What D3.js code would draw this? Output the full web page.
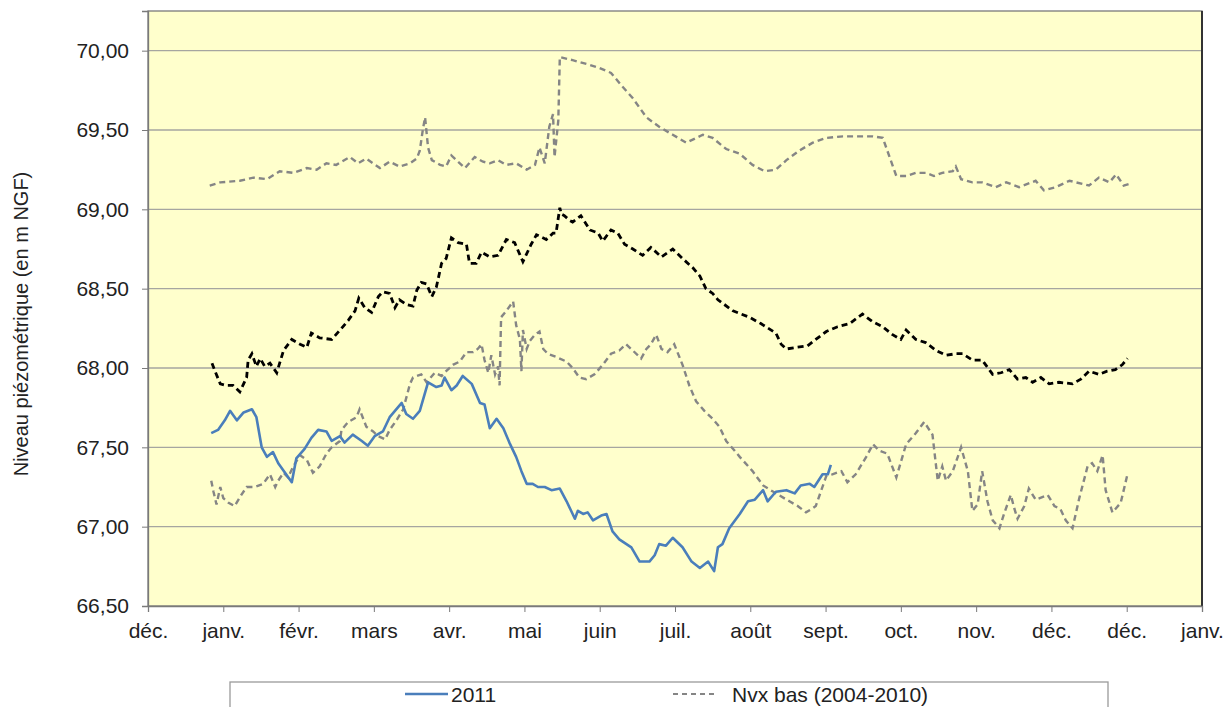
<!DOCTYPE html>
<html lang="fr">
<head>
<meta charset="UTF-8" />
<title>Niveau piézométrique</title>
<script src="https://cdn.jsdelivr.net/npm/d3@7/dist/d3.min.js"></script>
<style>
  body { margin: 0; background: #fff; }
  svg text { font-family: "Liberation Sans", Arial, sans-serif; fill: #222; }
</style>
</head>
<body>
<div id="chart"></div>
<script>
// axis labels (one per major tick, x in "month" units 0..14)
var monthLabels = ["déc.", "janv.", "févr.", "mars", "avr.", "mai", "juin", "juil.", "août", "sept.", "oct.", "nov.", "déc.", "déc.", "janv."];
var yTicks = [66.5, 67, 67.5, 68, 68.5, 69, 69.5, 70];

// 2011 series [month, level m NGF]
var serie2011 = [
  [0.84,67.59],[0.93,67.61],[1.02,67.67],[1.09,67.73],[1.18,67.67],[1.27,67.72],[1.38,67.74],[1.44,67.69],
  [1.51,67.50],[1.58,67.44],[1.66,67.47],[1.73,67.40],[1.82,67.34],[1.91,67.28],[1.97,67.43],[2.08,67.49],
  [2.17,67.56],[2.26,67.61],[2.37,67.60],[2.44,67.54],[2.55,67.57],[2.61,67.53],[2.72,67.58],[2.84,67.54],
  [2.92,67.51],[3.01,67.57],[3.12,67.60],[3.21,67.69],[3.37,67.78],[3.43,67.71],[3.52,67.68],[3.61,67.73],
  [3.72,67.91],[3.83,67.88],[3.90,67.89],[3.94,67.94],[4.03,67.86],[4.10,67.89],[4.18,67.95],[4.30,67.90],
  [4.41,67.78],[4.47,67.77],[4.54,67.62],[4.63,67.68],[4.72,67.62],[4.80,67.53],[4.89,67.44],[4.96,67.35],
  [5.03,67.27],[5.11,67.27],[5.18,67.25],[5.27,67.25],[5.36,67.23],[5.47,67.24],[5.56,67.16],[5.62,67.10],
  [5.67,67.05],[5.71,67.10],[5.78,67.08],[5.84,67.09],[5.91,67.04],[6.02,67.07],[6.09,67.08],[6.17,66.97],
  [6.26,66.92],[6.42,66.87],[6.53,66.78],[6.66,66.78],[6.73,66.82],[6.79,66.89],[6.88,66.88],[6.97,66.93],
  [7.10,66.87],[7.22,66.78],[7.33,66.74],[7.44,66.78],[7.52,66.72],[7.57,66.87],[7.63,66.89],[7.72,66.99],
  [7.86,67.08],[7.97,67.16],[8.06,67.17],[8.17,67.23],[8.23,67.16],[8.34,67.22],[8.48,67.23],[8.59,67.21],
  [8.67,67.26],[8.79,67.27],[8.85,67.25],[8.96,67.33],[9.03,67.33],[9.07,67.39]
];

// Nvx bas (2004-2010)
var serieBas = [
  [0.84,67.29],[0.87,67.22],[0.91,67.14],[0.96,67.25],[1.00,67.18],[1.07,67.15],[1.15,67.13],[1.24,67.20],
  [1.31,67.25],[1.42,67.25],[1.53,67.27],[1.62,67.33],[1.69,67.25],[1.73,67.29],[1.80,67.34],[1.86,67.31],
  [1.93,67.38],[2.02,67.45],[2.11,67.42],[2.19,67.34],[2.28,67.38],[2.37,67.46],[2.44,67.50],[2.55,67.54],
  [2.57,67.61],[2.66,67.66],[2.77,67.69],[2.81,67.74],[2.90,67.63],[2.99,67.60],[3.06,67.57],[3.15,67.55],
  [3.21,67.61],[3.30,67.67],[3.39,67.74],[3.48,67.90],[3.52,67.94],[3.63,67.96],[3.70,67.91],[3.81,67.97],
  [3.90,67.95],[3.96,67.98],[4.05,68.02],[4.14,68.04],[4.23,68.10],[4.32,68.10],[4.38,68.12],[4.43,68.15],
  [4.47,68.05],[4.52,67.97],[4.56,68.08],[4.61,67.96],[4.65,68.01],[4.67,67.89],[4.69,68.32],[4.76,68.36],
  [4.85,68.42],[4.89,68.27],[4.94,68.18],[4.96,67.98],[4.98,68.24],[5.03,68.12],[5.07,68.17],[5.14,68.21],
  [5.20,68.23],[5.25,68.12],[5.31,68.09],[5.42,68.07],[5.56,68.04],[5.64,68.00],[5.73,67.94],[5.82,67.93],
  [5.93,67.96],[6.04,68.02],[6.15,68.09],[6.26,68.11],[6.35,68.15],[6.44,68.11],[6.55,68.06],[6.62,68.12],
  [6.68,68.15],[6.75,68.21],[6.82,68.12],[6.90,68.10],[6.99,68.15],[7.10,68.02],[7.19,67.89],[7.28,67.79],
  [7.39,67.73],[7.50,67.68],[7.59,67.63],[7.68,67.54],[7.79,67.48],[7.86,67.44],[8.03,67.35],[8.17,67.26],
  [8.34,67.21],[8.52,67.16],[8.63,67.13],[8.74,67.09],[8.81,67.11],[8.87,67.13],[9.01,67.32],[9.09,67.33],
  [9.21,67.35],[9.29,67.28],[9.40,67.33],[9.54,67.44],[9.63,67.52],[9.71,67.48],[9.82,67.46],[9.94,67.31],
  [10.07,67.52],[10.20,67.59],[10.31,67.66],[10.42,67.58],[10.49,67.29],[10.55,67.38],[10.60,67.29],[10.69,67.35],
  [10.80,67.50],[10.89,67.35],[10.95,67.10],[11.02,67.14],[11.08,67.35],[11.15,67.16],[11.22,67.04],[11.31,66.99],
  [11.37,67.08],[11.46,67.20],[11.51,67.11],[11.55,67.05],[11.64,67.13],[11.70,67.24],[11.79,67.17],[11.95,67.20],
  [12.04,67.13],[12.12,67.11],[12.19,67.04],[12.28,66.99],[12.37,67.18],[12.48,67.38],[12.54,67.40],[12.61,67.35],
  [12.68,67.45],[12.72,67.23],[12.81,67.09],[12.92,67.15],[13.01,67.33]
];

// upper grey dashed series
var serieHaut = [
  [0.82,69.15],[0.96,69.17],[1.22,69.18],[1.40,69.20],[1.58,69.19],[1.75,69.24],[1.93,69.23],[2.11,69.26],
  [2.24,69.25],[2.37,69.29],[2.50,69.28],[2.68,69.33],[2.79,69.29],[2.90,69.32],[3.08,69.26],[3.21,69.30],
  [3.34,69.27],[3.48,69.29],[3.57,69.32],[3.61,69.37],[3.65,69.50],[3.68,69.58],[3.72,69.39],[3.77,69.31],
  [3.88,69.28],[3.96,69.27],[4.03,69.34],[4.12,69.30],[4.21,69.26],[4.34,69.33],[4.45,69.30],[4.54,69.29],
  [4.65,69.31],[4.76,69.28],[4.89,69.29],[5.03,69.25],[5.14,69.28],[5.20,69.39],[5.27,69.29],[5.33,69.52],
  [5.38,69.60],[5.40,69.33],[5.45,69.56],[5.47,69.96],[5.64,69.94],[5.87,69.91],[6.00,69.89],[6.15,69.86],
  [6.29,69.78],[6.44,69.70],[6.62,69.58],[6.79,69.52],[6.97,69.47],[7.15,69.42],[7.37,69.47],[7.50,69.45],
  [7.68,69.38],[7.86,69.35],[8.03,69.28],[8.19,69.24],[8.34,69.25],[8.48,69.31],[8.65,69.37],[8.83,69.42],
  [9.01,69.45],[9.23,69.46],[9.45,69.46],[9.63,69.46],[9.76,69.45],[9.85,69.33],[9.94,69.21],[10.07,69.21],
  [10.20,69.23],[10.33,69.23],[10.44,69.21],[10.55,69.23],[10.69,69.24],[10.73,69.27],[10.80,69.19],[10.95,69.17],
  [11.08,69.17],[11.26,69.14],[11.40,69.17],[11.57,69.14],[11.79,69.18],[11.90,69.12],[12.06,69.14],[12.24,69.18],
  [12.50,69.15],[12.63,69.20],[12.77,69.17],[12.86,69.22],[12.96,69.15],[13.03,69.16]
];

// black dashed series
var serieNoire = [
  [0.85,68.03],[0.89,67.98],[0.96,67.90],[1.04,67.89],[1.13,67.89],[1.22,67.85],[1.31,67.94],[1.33,68.05],
  [1.38,68.09],[1.44,68.01],[1.49,68.06],[1.55,68.01],[1.62,68.03],[1.71,67.97],[1.80,68.11],[1.91,68.18],
  [2.02,68.15],[2.11,68.13],[2.17,68.22],[2.28,68.19],[2.44,68.18],[2.57,68.25],[2.66,68.30],[2.75,68.36],
  [2.80,68.44],[2.88,68.38],[2.97,68.35],[3.06,68.45],[3.12,68.48],[3.21,68.47],[3.28,68.38],[3.34,68.43],
  [3.43,68.40],[3.52,68.39],[3.57,68.49],[3.63,68.54],[3.70,68.53],[3.77,68.45],[3.83,68.51],[3.90,68.66],
  [3.96,68.69],[4.03,68.82],[4.12,68.79],[4.23,68.78],[4.27,68.66],[4.36,68.66],[4.43,68.73],[4.54,68.70],
  [4.65,68.71],[4.76,68.81],[4.87,68.79],[4.98,68.67],[5.09,68.78],[5.16,68.84],[5.29,68.81],[5.38,68.85],
  [5.42,68.85],[5.47,69.01],[5.49,68.97],[5.53,68.96],[5.60,68.93],[5.64,68.92],[5.75,68.96],[5.87,68.87],
  [5.98,68.85],[6.04,68.80],[6.15,68.87],[6.24,68.85],[6.33,68.78],[6.44,68.75],[6.57,68.71],[6.68,68.76],
  [6.82,68.70],[6.97,68.75],[7.10,68.69],[7.24,68.63],[7.33,68.58],[7.41,68.50],[7.50,68.47],[7.57,68.43],
  [7.77,68.36],[7.99,68.32],[8.14,68.28],[8.34,68.22],[8.41,68.15],[8.48,68.12],[8.61,68.13],[8.76,68.14],
  [8.87,68.18],[9.01,68.23],[9.16,68.26],[9.32,68.28],[9.49,68.34],[9.63,68.29],[9.76,68.26],[9.89,68.21],
  [10.00,68.18],[10.07,68.24],[10.20,68.18],[10.33,68.16],[10.47,68.11],[10.60,68.08],[10.73,68.09],[10.82,68.09],
  [10.95,68.05],[11.08,68.05],[11.22,67.96],[11.33,67.97],[11.44,67.99],[11.55,67.93],[11.66,67.94],[11.75,67.91],
  [11.86,67.94],[11.97,67.90],[12.10,67.91],[12.28,67.90],[12.39,67.93],[12.50,67.98],[12.63,67.96],[12.74,67.98],
  [12.85,67.99],[12.94,68.02],[13.01,68.06]
];

var W = 1231, H = 707;
var plotLeft = 148, plotRight = 1202, plotTop = 11, plotBottom = 606;

var svg = d3.select("#chart").append("svg")
  .attr("width", W)
  .attr("height", H);

var xScale = d3.scaleLinear().domain([0, 14]).range([plotLeft, plotRight]);
var yScale = d3.scaleLinear().domain([66.5, 70.25]).range([plotBottom, plotTop]);

// plot background
svg.append("rect")
  .attr("x", plotLeft).attr("y", plotTop)
  .attr("width", plotRight - plotLeft).attr("height", plotBottom - plotTop)
  .attr("fill", "#ffffcc");

// horizontal gridlines
svg.selectAll("line.grid")
  .data(yTicks.slice(1))
  .enter().append("line")
  .attr("class", "grid")
  .attr("x1", plotLeft).attr("x2", plotRight)
  .attr("y1", function(d) { return yScale(d); })
  .attr("y2", function(d) { return yScale(d); })
  .attr("stroke", "#a6a6a0")
  .attr("stroke-width", 1.3);

// plot border
svg.append("rect")
  .attr("x", plotLeft).attr("y", plotTop)
  .attr("width", plotRight - plotLeft).attr("height", plotBottom - plotTop)
  .attr("fill", "none")
  .attr("stroke", "#7a7a7a")
  .attr("stroke-width", 1.3);
svg.append("line")
  .attr("x1", plotRight).attr("x2", plotRight).attr("y1", plotTop).attr("y2", plotBottom)
  .attr("stroke", "#333").attr("stroke-width", 2);

// y axis
var yAxis = d3.axisLeft(yScale)
  .tickValues(yTicks)
  .tickSize(6)
  .tickPadding(13)
  .tickFormat(function(d) { return d3.format(".2f")(d).replace(".", ","); });
var gy = svg.append("g")
  .attr("transform", "translate(" + plotLeft + ",0)")
  .call(yAxis);
gy.select(".domain").attr("stroke", "#7a7a7a").attr("stroke-width", 1.3);
gy.selectAll(".tick line").attr("stroke", "#7a7a7a");
gy.selectAll(".tick text").style("font-size", "21px").attr("fill", "#222");

// x axis
var xAxis = d3.axisBottom(xScale)
  .tickValues(d3.range(0, 15))
  .tickSize(6)
  .tickPadding(11)
  .tickFormat(function(d) { return monthLabels[d]; });
var gx = svg.append("g")
  .attr("transform", "translate(0," + plotBottom + ")")
  .call(xAxis);
gx.select(".domain").attr("stroke", "#7a7a7a").attr("stroke-width", 1.3);
gx.selectAll(".tick line").attr("stroke", "#7a7a7a");
gx.selectAll(".tick text").style("font-size", "21px").attr("fill", "#222");

// y title
svg.append("text")
  .attr("transform", "translate(28,324) rotate(-90)")
  .attr("text-anchor", "middle")
  .style("font-size", "20px")
  .text("Niveau piézométrique (en m NGF)");

var line = d3.line()
  .x(function(d) { return xScale(d[0]); })
  .y(function(d) { return yScale(d[1]); });

svg.append("path")
  .datum(serieHaut)
  .attr("d", line)
  .attr("fill", "none")
  .attr("stroke", "#858585")
  .attr("stroke-width", 2.4)
  .attr("stroke-dasharray", "6,4");

svg.append("path")
  .datum(serieBas)
  .attr("d", line)
  .attr("fill", "none")
  .attr("stroke", "#858585")
  .attr("stroke-width", 2.4)
  .attr("stroke-dasharray", "6,4");

svg.append("path")
  .datum(serieNoire)
  .attr("d", line)
  .attr("fill", "none")
  .attr("stroke", "#000")
  .attr("stroke-width", 2.8)
  .attr("stroke-dasharray", "6,4");

svg.append("path")
  .datum(serie2011)
  .attr("d", line)
  .attr("fill", "none")
  .attr("stroke", "#4a7ebb")
  .attr("stroke-width", 2.6)
  .attr("stroke-linejoin", "round");

// legend (cut by the bottom of the picture)
svg.append("rect")
  .attr("x", 230).attr("y", 682)
  .attr("width", 878).attr("height", 60)
  .attr("fill", "#fff")
  .attr("stroke", "#9a9a9a")
  .attr("stroke-width", 1.3);

svg.append("line")
  .attr("x1", 405).attr("x2", 448).attr("y1", 694).attr("y2", 694)
  .attr("stroke", "#4a7ebb").attr("stroke-width", 2.6);
svg.append("text")
  .attr("x", 451).attr("y", 702)
  .style("font-size", "21px")
  .text("2011");

svg.append("line")
  .attr("x1", 673).attr("x2", 717).attr("y1", 694).attr("y2", 694)
  .attr("stroke", "#858585").attr("stroke-width", 2.2)
  .attr("stroke-dasharray", "5,4");
svg.append("text")
  .attr("x", 732).attr("y", 702)
  .style("font-size", "21px")
  .text("Nvx bas (2004-2010)");
</script>
</body>
</html>
